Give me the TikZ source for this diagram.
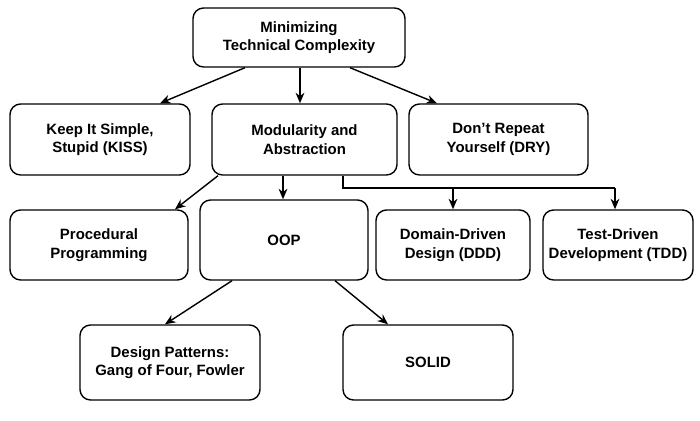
\documentclass[tikz,border=0pt]{standalone}
\usepackage{fontspec}
\setmainfont{Liberation Sans}
\usetikzlibrary{arrows.meta}
\tikzset{
  box/.style = {draw, thick, rounded corners=6pt, align=center, font=\bfseries\fontsize{8.5}{10.5}\selectfont, inner sep=0pt},
  link/.style = {thick, -{Stealth[length=6pt,width=5pt]}}
}
\begin{document}
\begin{tikzpicture}[x=0.02cm, y=-0.02cm]
\useasboundingbox (0,0) rectangle (700,421);

\node[box, minimum width=212*0.02cm, minimum height=59*0.02cm] (top) at (299,37.5) {Minimizing\\Technical Complexity};

\node[box, minimum width=180*0.02cm, minimum height=71*0.02cm] (kiss) at (100,139.5) {Keep It Simple,\\Stupid (KISS)};
\node[box, minimum width=185*0.02cm, minimum height=71*0.02cm] (mod) at (304.5,139.5) {Modularity and\\Abstraction};
\node[box, minimum width=179*0.02cm, minimum height=71*0.02cm] (dry) at (498.5,139.5) {Don't Repeat\\Yourself (DRY)};

\node[box, minimum width=178*0.02cm, minimum height=70*0.02cm] (proc) at (99,245) {Procedural\\Programming};
\node[box, minimum width=168*0.02cm, minimum height=80*0.02cm] (oop) at (284,240) {OOP};
\node[box, minimum width=154*0.02cm, minimum height=70*0.02cm] (ddd) at (453,245) {Domain-Driven\\Design (DDD)};
\node[box, minimum width=150*0.02cm, minimum height=70*0.02cm] (tdd) at (618,245) {Test-Driven\\Development (TDD)};

\node[box, minimum width=180*0.02cm, minimum height=75*0.02cm] (pat) at (170,362.5) {Design Patterns:\\Gang of Four, Fowler};
\node[box, minimum width=170*0.02cm, minimum height=75*0.02cm] (solid) at (428,362.5) {SOLID};

% top level
\draw[link] (top.south -| 245,0) -- (kiss.north -| 160,0);
\draw[link] (top.south -| 300,0) -- (mod.north -| 300,0);
\draw[link] (top.south -| 350,0) -- (dry.north -| 437,0);

% modularity
\draw[link] (mod.south -| 218,0) -- (proc.north -| 175,0);
\draw[link] (mod.south -| 283,0) -- (oop.north -| 283,0);
\draw[thick] (mod.south -| 343,0) |- (615,188);
\draw[link] (453,188) -- (ddd.north -| 453,0);
\draw[link] (615,188) -- (tdd.north -| 615,0);

% oop
\draw[link] (oop.south -| 232,0) -- (pat.north -| 165,0);
\draw[link] (oop.south -| 335,0) -- (solid.north -| 388,0);
\end{tikzpicture}
\end{document}
